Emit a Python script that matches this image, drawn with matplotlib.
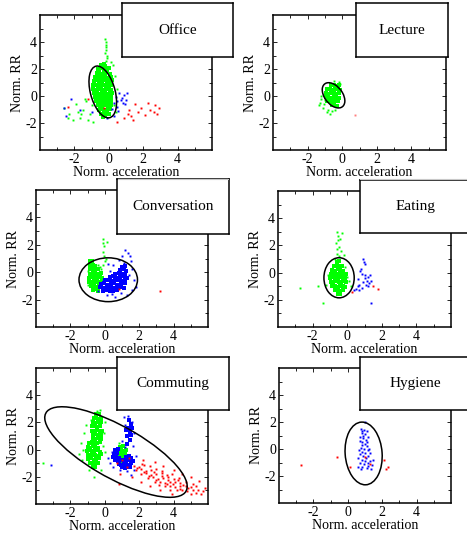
import numpy as np
import matplotlib
matplotlib.use("Agg")
import matplotlib.pyplot as plt
from matplotlib.patches import Ellipse
from matplotlib.ticker import FixedLocator

plt.rcParams["font.family"] = ["Liberation Serif", "DejaVu Serif"]
plt.rcParams["axes.unicode_minus"] = False

# === 1. Data (normalised acceleration, normalised RR) ===
titles = ["Office", "Lecture", "Conversation", "Eating", "Commuting", "Hygiene"]

# --- Office ---
office_green_core = [
    (-0.45, 2.3), (-0.3, 2.35), (-0.2, 2.25),
    (-0.6, 2.0), (-0.45, 2.05), (-0.3, 1.95), (-0.15, 2.0), (0.0, 2.1),
    (-0.7, 1.7), (-0.55, 1.75), (-0.4, 1.65), (-0.25, 1.7), (-0.1, 1.75), (0.05, 1.65),
    (-0.8, 1.4), (-0.65, 1.45), (-0.5, 1.35), (-0.35, 1.4), (-0.2, 1.45), (-0.05, 1.35), (0.1, 1.4),
    (-0.85, 1.1), (-0.7, 1.15), (-0.55, 1.05), (-0.4, 1.1), (-0.25, 1.15), (-0.1, 1.05), (0.05, 1.1), (0.2, 1.15),
    (-0.9, 0.8), (-0.75, 0.85), (-0.6, 0.75), (-0.45, 0.8), (-0.3, 0.85), (-0.15, 0.75), (0.0, 0.8), (0.15, 0.85),
    (-0.9, 0.5), (-0.75, 0.45), (-0.6, 0.55), (-0.45, 0.5), (-0.3, 0.45), (-0.15, 0.55), (0.0, 0.5), (0.15, 0.45),
    (-0.85, 0.2), (-0.7, 0.25), (-0.55, 0.15), (-0.4, 0.2), (-0.25, 0.25), (-0.1, 0.15), (0.05, 0.2), (0.2, 0.25),
    (-0.8, -0.1), (-0.65, -0.05), (-0.5, -0.15), (-0.35, -0.1), (-0.2, -0.05), (-0.05, -0.15), (0.1, -0.1),
    (-0.75, -0.4), (-0.6, -0.35), (-0.45, -0.45), (-0.3, -0.4), (-0.15, -0.35), (0.0, -0.45), (0.15, -0.4),
    (-0.65, -0.7), (-0.5, -0.75), (-0.35, -0.65), (-0.2, -0.7), (-0.05, -0.75), (0.1, -0.65),
    (-0.55, -1.0), (-0.4, -0.95), (-0.25, -1.05), (-0.1, -1.0), (0.05, -0.95),
    (-0.45, -1.3), (-0.3, -1.25), (-0.15, -1.35), (0.0, -1.3),
    (-0.35, -1.55), (-0.2, -1.5),
]
office_green_sparse = [
    (-2.6, -0.9), (-2.3, -1.3), (-1.9, -0.6), (-1.7, -1.6), (-1.5, -1.0), (-1.3, -0.4),
    (-1.2, -1.8), (-1.1, -1.3), (-1.0, -0.7), (-2.1, -1.8), (0.3, -0.7), (0.4, -1.2),
    (0.5, 0.5), (0.35, 1.5), (-0.15, 2.6), (-0.12, 3.0), (-0.18, 3.4), (-0.15, 3.8),
    (-0.2, 4.2), (-0.1, 2.8), (-0.25, 3.2), (0.1, 2.5), (-1.4, -0.2), (-0.9, -1.9),
    (-1.6, -1.3), (-0.14, 3.6), (-0.17, 4.0), (0.25, 2.3), (-1.8, -1.2), (-2.4, -1.6),
]
office_blue = [
    (-2.6, -0.9), (-2.5, -1.5), (-2.2, -0.2), (-1.7, -1.0), (-1.0, -1.2), (0.3, -0.5),
    (0.4, -0.1), (0.5, -0.8), (0.6, 0.2), (0.7, -0.3), (0.8, -0.5), (0.9, 0.1),
    (1.0, -0.3), (1.05, 0.2), (0.55, -1.1), (0.3, -1.5), (-0.1, -1.6), (0.45, -0.4),
    (0.75, -0.15), (0.95, -0.6), (0.2, -0.95),
]
office_red = [
    (-2.4, -0.8), (-1.2, -0.2), (-0.3, -0.9), (1.1, -1.3), (1.2, -1.0), (1.3, -1.5),
    (1.5, -0.6), (1.4, -1.8), (1.7, -1.2), (1.9, -0.9), (2.1, -1.4), (2.3, -0.5),
    (2.4, -1.0), (2.6, -1.2), (2.7, -0.7), (2.8, -1.3), (2.9, -0.9), (0.9, -1.6), (0.5, -1.9),
]

# --- Lecture ---
lecture_green_core = [
    (-0.65, 0.8), (-0.5, 0.85), (-0.35, 0.75), (-0.2, 0.8),
    (-0.85, 0.5), (-0.7, 0.55), (-0.55, 0.45), (-0.4, 0.5), (-0.25, 0.55), (-0.1, 0.45),
    (-0.95, 0.2), (-0.8, 0.15), (-0.65, 0.25), (-0.5, 0.2), (-0.35, 0.15), (-0.2, 0.25),
    (-0.95, -0.1), (-0.8, -0.05), (-0.65, -0.15), (-0.5, -0.1), (-0.35, -0.05), (-0.2, -0.15),
    (-0.85, -0.4), (-0.7, -0.35), (-0.55, -0.45), (-0.4, -0.4), (-0.25, -0.35),
    (-0.6, -0.7), (-0.45, -0.65), (-0.3, -0.75),
]
lecture_green_sparse = [
    (-1.3, -0.5), (-1.2, 0.0), (-1.1, -0.9), (-0.9, -1.2), (-0.8, -1.0), (-0.6, -1.1),
    (-0.5, 1.1), (-0.2, 1.05), (-1.0, -0.3), (-1.25, -0.2), (-0.4, -1.0), (-0.15, 0.9),
    (-0.7, -1.3), (-1.35, -0.7), (-1.05, -0.6),
]
lecture_red = [(0.75, -1.4)]

# --- Conversation ---
conv_green_core = [
    (-0.85, 0.8), (-0.75, 0.85),
    (-0.85, 0.5), (-0.7, 0.55), (-0.55, 0.45),
    (-0.85, 0.2), (-0.7, 0.25), (-0.55, 0.15), (-0.4, 0.2),
    (-0.85, -0.1), (-0.7, -0.05), (-0.55, -0.15), (-0.4, -0.1), (-0.25, -0.05),
    (-0.9, -0.4), (-0.75, -0.35), (-0.6, -0.45), (-0.45, -0.4), (-0.3, -0.35), (-0.15, -0.45),
    (-0.9, -0.7), (-0.75, -0.75), (-0.6, -0.65), (-0.45, -0.7), (-0.3, -0.75), (-0.15, -0.65),
    (-0.8, -1.0), (-0.65, -0.95), (-0.5, -1.05), (-0.35, -1.0), (-0.2, -0.95),
    (-0.7, -1.3), (-0.55, -1.25), (-0.4, -1.35),
]
conv_green_sparse = [
    (-0.1, 2.4), (0.15, 2.2), (-0.05, 1.9), (-0.1, 1.5), (-0.05, 1.2), (0.0, 0.8),
    (-0.4, 0.5), (-0.2, 0.2), (-1.0, -0.9), (-0.95, 0.1), (-0.1, 0.5), (0.05, 1.0),
    (-0.08, 2.1), (-0.3, 0.4),
]
conv_blue_core = [
    (-0.1, -1.35), (0.1, -1.3), (0.3, -1.4), (0.5, -1.35), (0.7, -1.3),
    (-0.3, -1.1), (-0.1, -1.15), (0.1, -1.05), (0.3, -1.1), (0.5, -1.15), (0.7, -1.05), (0.9, -1.1), (1.1, -1.15),
    (-0.25, -0.85), (-0.05, -0.8), (0.15, -0.9), (0.35, -0.85), (0.55, -0.8), (0.75, -0.9), (0.95, -0.85), (1.15, -0.8),
    (0.0, -0.6), (0.2, -0.55), (0.4, -0.65), (0.6, -0.6), (0.8, -0.55), (1.0, -0.65), (1.2, -0.6),
    (0.3, -0.35), (0.5, -0.3), (0.7, -0.4), (0.9, -0.35), (1.1, -0.3), (1.3, -0.4),
    (0.6, -0.1), (0.8, -0.05), (1.0, -0.15), (1.2, -0.1),
    (0.9, 0.15), (1.1, 0.2), (1.25, 0.1),
    (1.0, 0.4), (1.2, 0.45),
]
conv_blue_sparse = [
    (1.2, 1.6), (1.35, 1.4), (1.0, 1.2), (0.8, 0.9), (0.5, 0.5), (0.3, 0.1),
    (1.5, 0.8), (1.6, 0.2), (1.7, -0.6), (1.6, -1.3), (1.3, -1.7), (1.8, -1.1),
    (0.1, -1.7), (0.6, -1.8), (-0.4, -1.4), (1.4, -0.2), (0.2, 0.6), (1.1, 0.7),
    (1.45, 1.2), (0.4, -1.6), (0.95, -1.5),
]
conv_red = [(3.2, -1.4), (0.8, -1.2)]

# --- Eating ---
eat_green_core = [
    (-0.6, 0.8), (-0.45, 0.85),
    (-0.75, 0.5), (-0.6, 0.55), (-0.45, 0.45), (-0.3, 0.5),
    (-0.85, 0.2), (-0.7, 0.15), (-0.55, 0.25), (-0.4, 0.2), (-0.25, 0.15),
    (-0.95, -0.1), (-0.8, -0.05), (-0.65, -0.15), (-0.5, -0.1), (-0.35, -0.05), (-0.2, -0.15), (-0.05, -0.1),
    (-1.0, -0.4), (-0.85, -0.35), (-0.7, -0.45), (-0.55, -0.4), (-0.4, -0.35), (-0.25, -0.45), (-0.1, -0.4),
    (-0.95, -0.7), (-0.8, -0.75), (-0.65, -0.65), (-0.5, -0.7), (-0.35, -0.75), (-0.2, -0.65), (-0.05, -0.7),
    (-0.85, -1.0), (-0.7, -0.95), (-0.55, -1.05), (-0.4, -1.0), (-0.25, -0.95), (-0.1, -1.05),
    (-0.7, -1.3), (-0.55, -1.25), (-0.4, -1.35), (-0.25, -1.3),
    (-0.55, -1.55), (-0.4, -1.6),
]
eat_green_sparse = [
    (-0.6, 3.0), (-0.55, 2.7), (-0.4, 2.5), (-0.65, 2.2), (-0.5, 1.9), (-0.35, 1.6),
    (-0.6, 1.4), (-0.45, 1.2), (-0.7, 1.0), (-2.7, -1.1), (-1.7, -1.0), (-1.4, -2.2),
    (-1.2, -0.9), (-0.2, 1.3), (0.1, -0.6), (0.2, -1.0), (-0.3, 2.9), (0.0, -0.3),
    (-0.52, 2.4), (-0.58, 1.7), (-0.15, 0.4), (-1.1, -0.2),
]
eat_blue = [
    (0.9, 1.0), (1.0, 0.6), (0.8, 0.3), (0.85, -0.1), (1.0, -0.4), (1.2, -0.3),
    (1.4, -0.6), (0.9, -0.7), (0.7, -0.9), (0.6, -1.0), (0.5, -1.2), (0.4, -1.3),
    (0.7, -1.3), (1.1, -0.9), (1.3, -0.2), (1.4, -2.2), (0.6, -0.5), (1.2, -1.0),
    (0.95, 0.8), (1.15, -0.6), (0.85, -1.1), (1.05, -0.2), (0.75, 0.1), (1.25, -0.75),
]
eat_red = [(1.8, -1.2), (1.5, -1.0), (0.3, -1.4)]

# --- Commuting ---
comm_green_core = [
    (-0.5, 2.6), (-0.35, 2.65),
    (-0.65, 2.3), (-0.5, 2.35), (-0.35, 2.25), (-0.2, 2.3),
    (-0.7, 2.0), (-0.55, 1.95), (-0.4, 2.05), (-0.25, 2.0),
    (-0.75, 1.7), (-0.6, 1.75), (-0.45, 1.65), (-0.3, 1.7),
    (-0.75, 1.4), (-0.6, 1.35), (-0.45, 1.45), (-0.3, 1.4), (-0.15, 1.35),
    (-0.7, 1.1), (-0.55, 1.15), (-0.4, 1.05), (-0.25, 1.1),
    (-0.7, 0.8), (-0.55, 0.75), (-0.4, 0.85), (-0.25, 0.8),
    (-0.9, 0.5), (-0.75, 0.55), (-0.6, 0.45), (-0.45, 0.5), (-0.3, 0.55),
    (-1.0, 0.2), (-0.85, 0.15), (-0.7, 0.25), (-0.55, 0.2), (-0.4, 0.15),
    (-1.05, -0.1), (-0.9, -0.05), (-0.75, -0.15), (-0.6, -0.1), (-0.45, -0.05), (-0.3, -0.15),
    (-1.0, -0.4), (-0.85, -0.45), (-0.7, -0.35), (-0.55, -0.4), (-0.4, -0.45), (-0.25, -0.35),
    (-0.95, -0.7), (-0.8, -0.65), (-0.65, -0.75), (-0.5, -0.7), (-0.35, -0.65),
    (-0.85, -1.0), (-0.7, -1.05), (-0.55, -0.95), (-0.4, -1.0),
    (-0.7, -1.3), (-0.55, -1.25),
    (0.9, 0.2), (1.05, 0.25),
    (0.8, -0.05), (0.95, 0.0), (1.1, -0.1), (1.25, -0.05),
    (0.75, -0.3), (0.9, -0.35), (1.05, -0.25), (1.2, -0.3),
    (0.8, -0.55), (0.95, -0.6), (1.1, -0.5),
    (0.9, -0.8), (1.05, -0.85),
]
comm_green_sparse = [
    (-1.4, 0.5), (-1.3, -0.8), (-1.2, 1.2), (-0.1, 0.3), (0.0, -0.2), (-0.2, -1.5),
    (-0.9, -1.5), (-0.8, 2.2), (0.0, 2.0), (-1.1, 1.8), (-0.3, 2.9), (-1.5, -0.3),
    (-3.6, -1.0), (-0.6, -2.0), (-0.45, 2.85), (-0.05, 1.2), (-1.25, 0.0), (0.85, 0.5),
]
comm_blue_core = [
    (0.6, 0.0), (0.75, 0.05),
    (0.55, -0.3), (0.7, -0.25),
    (0.5, -0.55), (0.65, -0.5), (0.8, -0.6), (1.25, -0.55), (1.4, -0.5), (1.55, -0.6),
    (0.6, -0.8), (0.75, -0.85), (0.9, -0.75), (1.05, -0.8), (1.2, -0.85), (1.35, -0.75), (1.5, -0.8), (1.65, -0.85),
    (0.8, -1.05), (0.95, -1.1), (1.1, -1.0), (1.25, -1.05), (1.4, -1.1), (1.55, -1.0),
    (1.0, -1.3), (1.15, -1.35), (1.3, -1.25), (1.45, -1.3),
    (1.3, 1.0), (1.45, 1.3), (1.35, 1.6), (1.5, 1.9), (1.4, 2.2), (1.25, 1.45),
    (1.55, 1.1), (1.45, 0.7), (1.3, 0.4), (1.6, 1.6),
]
comm_blue_sparse = [
    (1.1, 2.4), (1.6, 2.0), (0.3, -1.0), (0.4, -0.2), (1.7, -1.5), (1.8, -0.5),
    (1.3, -1.6), (1.5, -1.9), (0.9, -1.5), (1.2, 0.2), (1.65, 0.3), (-3.1, -1.1),
    (0.2, -0.6), (1.0, 0.6), (1.35, 2.5), (1.7, 1.2), (1.15, 1.8), (0.45, -1.3),
]
comm_red_core = [
    (1.7, -1.2), (2.0, -1.25), (2.3, -1.15), (2.6, -1.2),
    (1.8, -1.5), (2.1, -1.45), (2.4, -1.55), (2.7, -1.5), (3.0, -1.45), (3.3, -1.55),
    (2.1, -1.8), (2.4, -1.75), (2.7, -1.85), (3.0, -1.8), (3.3, -1.75), (3.6, -1.85), (3.9, -1.8),
    (2.5, -2.1), (2.8, -2.05), (3.1, -2.15), (3.4, -2.1), (3.7, -2.05), (4.0, -2.15), (4.3, -2.1),
    (2.9, -2.4), (3.2, -2.35), (3.5, -2.45), (3.8, -2.4), (4.1, -2.35), (4.4, -2.45), (4.7, -2.4),
    (3.5, -2.7), (3.8, -2.65), (4.1, -2.75), (4.4, -2.7), (4.7, -2.65), (5.0, -2.75), (5.3, -2.7),
    (4.2, -3.0), (4.5, -2.95), (4.8, -3.05), (5.1, -3.0), (5.4, -2.95), (5.7, -3.05),
    (5.0, -3.25), (5.3, -3.2), (5.6, -3.3),
    (1.85, -1.35), (2.25, -1.65), (2.55, -1.95), (2.95, -2.25), (3.35, -1.95), (3.65, -2.25),
    (3.95, -2.55), (4.25, -2.25), (4.55, -2.6), (4.85, -2.85), (3.15, -2.6), (3.6, -2.55),
    (2.15, -1.05), (2.85, -1.65), (4.35, -2.9), (5.15, -2.55), (3.8, -2.95),
]
comm_red_sparse = [
    (1.0, -0.8), (1.4, -0.6), (2.2, -0.8), (2.9, -0.9), (3.4, -1.2), (4.0, -1.5),
    (4.5, -1.8), (5.0, -2.0), (5.5, -2.3), (1.6, -2.0), (2.1, -2.4), (2.6, -2.7),
    (3.2, -3.0), (3.9, -3.3), (0.9, -1.8), (0.8, -2.5), (5.8, -2.8), (1.3, -1.3), (0.7, -1.0),
]

# --- Hygiene ---
hyg_blue = [
    (0.75, 1.5), (0.95, 1.4), (1.1, 1.3), (0.8, 1.2), (1.0, 1.1), (0.7, 0.9),
    (0.9, 0.8), (1.05, 0.7), (0.8, 0.5), (1.0, 0.4), (0.85, 0.3), (1.1, 0.2),
    (0.75, 0.1), (0.95, 0.0), (1.15, -0.1), (0.8, -0.2), (1.0, -0.3), (0.7, -0.4),
    (0.9, -0.5), (1.2, -0.5), (0.6, -0.7), (0.85, -0.8), (1.05, -0.7), (1.3, -0.9),
    (0.7, -1.0), (0.95, -1.1), (1.15, -1.0), (1.4, -1.2), (0.6, -1.3), (0.85, -1.35),
    (1.1, -1.4), (1.35, -1.45), (1.0, 2.0), (0.9, 1.0), (1.2, 0.9), (0.7, 0.6),
    (1.25, 0.0), (0.65, -0.1), (1.3, -0.3), (1.45, -0.8), (0.75, -1.5), (1.0, -0.9),
    (1.1, 0.55), (0.85, 1.35), (1.2, -1.25),
]
hyg_red = [
    (-2.7, -1.2), (-0.6, -0.6), (0.1, -1.3), (1.3, -1.1), (2.1, -0.85),
    (2.2, -1.5), (2.35, -1.35), (1.0, -0.6),
]

# Fitted Gaussian contours: centre, width, height, angle
ell_center = [(-0.35, 0.3), (-0.5, 0.05), (0.2, -0.55), (-0.47, -0.38), (0.65, -0.18), (0.92, -0.33)]
ell_width = [1.45, 1.1, 3.4, 1.75, 10.0, 2.15]
ell_height = [3.9, 2.0, 3.2, 2.95, 3.6, 4.65]
ell_angle = [11, 25, 0, 0, -36.9, 3]

panel_series = [
    [(office_green_core, "#00ff00", True), (office_green_sparse, "#00ff00", False),
     (office_blue, "#0000ff", False), (office_red, "#ff0000", False)],
    [(lecture_green_core, "#00ff00", True), (lecture_green_sparse, "#00ff00", False),
     (lecture_red, "#ff8080", False)],
    [(conv_green_core, "#00ff00", True), (conv_green_sparse, "#00ff00", False),
     (conv_blue_core, "#0000ff", True), (conv_blue_sparse, "#0000ff", False),
     (conv_red, "#ff0000", False)],
    [(eat_green_core, "#00ff00", True), (eat_green_sparse, "#00ff00", False),
     (eat_blue, "#0000ff", False), (eat_red, "#ff0000", False)],
    [(comm_green_core, "#00ff00", True), (comm_green_sparse, "#00ff00", False),
     (comm_blue_core, "#0000ff", True), (comm_blue_sparse, "#0000ff", False),
     (comm_red_core, "#ff0000", False), (comm_red_sparse, "#ff0000", False)],
    [(hyg_blue, "#0000ff", False), (hyg_red, "#ff0000", False)],
]

# === 2. Layout (pixel boxes: left, top, right, bottom) ===
W, H = 467, 535
ax_px = [(40, 15, 212, 150), (273, 15, 446, 150),
         (36, 190, 208, 327), (278, 191, 451, 327),
         (36, 368, 208, 504), (279, 368, 451, 503)]
box_px = [(122, 3, 233, 57), (356, 3, 448, 57),
          (117, 179, 229, 234), (360, 180, 470, 233),
          (117, 357, 229, 410), (360, 357, 470, 410)]


def frac(l, t, r, b):
    return [l / W, 1 - b / H, (r - l) / W, (b - t) / H]


fig = plt.figure(figsize=(W / 100, H / 100), dpi=100)

for i in range(6):
    ax = fig.add_axes(frac(*ax_px[i]))
    for pts, col, core in panel_series[i]:
        xy = np.array(pts)
        ms = 3.0 if core else 1.4
        ax.plot(xy[:, 0], xy[:, 1], "s", ms=ms, mew=0, color=col, zorder=2)
    ax.add_patch(Ellipse(ell_center[i], ell_width[i], ell_height[i], angle=ell_angle[i],
                         fill=False, edgecolor="black", lw=1.1, zorder=3))
    ax.set_xlim(-4, 6)
    ax.set_ylim(-4, 6)
    ax.set_xticks([-2, 0, 2, 4])
    ax.set_yticks([-2, 0, 2, 4])
    ax.xaxis.set_minor_locator(FixedLocator(range(-3, 6)))
    ax.yaxis.set_minor_locator(FixedLocator(range(-3, 6)))
    ax.tick_params(which="both", direction="in", top=True, right=True,
                   labelsize=10, pad=2, width=0.6, colors="black")
    ax.tick_params(which="major", length=3)
    ax.tick_params(which="minor", length=2)
    for s in ax.spines.values():
        s.set_linewidth(1.1)
    ax.set_xlabel("Norm. acceleration", fontsize=10, labelpad=0)
    ax.set_ylabel("Norm. RR", fontsize=10, labelpad=1)

    bx = fig.add_axes(frac(*box_px[i]))
    bx.set_xticks([])
    bx.set_yticks([])
    for s in bx.spines.values():
        s.set_linewidth(1.1)
    bx.text(0.5, 0.5, titles[i], ha="center", va="center", fontsize=11,
            transform=bx.transAxes)

# faint separator lines under the top row
fig.add_artist(plt.Line2D([118 / W, 228 / W], [1 - 179 / H] * 2, color="#c8c8c8", lw=0.8))
fig.add_artist(plt.Line2D([360 / W, 467 / W], [1 - 179 / H] * 2, color="#c8c8c8", lw=0.8))

fig.savefig("out.png", dpi=100)
